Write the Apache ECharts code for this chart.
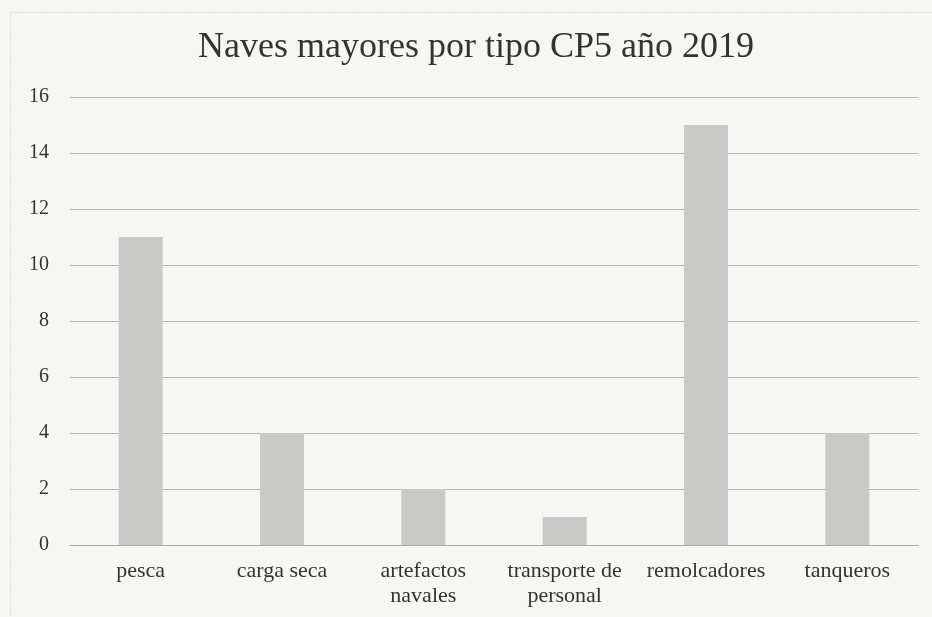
<!DOCTYPE html>
<html>
<head>
<meta charset="utf-8">
<script src="https://cdn.jsdelivr.net/npm/echarts@6/dist/echarts.min.js"></script>
<style>
html,body{margin:0;padding:0;background:#f6f6f2;}
#c{width:932px;height:617px;}
</style>
</head>
<body>
<div id="c"></div>
<script>
const titleText = "Naves mayores por tipo CP5 año 2019";
const categories = ["pesca", "carga seca", "artefactos navales", "transporte de personal", "remolcadores", "tanqueros"];
const tickLabels = ["pesca", "carga seca", "artefactos\nnavales", "transporte de\npersonal", "remolcadores", "tanqueros"];
const values = [11, 4, 2, 1, 15, 4];
const yTicks = [0, 2, 4, 6, 8, 10, 12, 14, 16];

const chart = echarts.init(document.getElementById('c'));
const serif = "'Liberation Serif', 'DejaVu Serif', serif";
chart.setOption({
  backgroundColor: '#f6f6f2',
  animation: false,
  title: {
    text: titleText,
    left: 193,
    top: 25,
    textStyle: {fontFamily: serif, fontSize: 36, fontWeight: 'normal', color: '#333333'}
  },
  graphic: [{
    type: 'rect', left: 8, top: 10, shape: {width: 940, height: 620},
    style: {fill: 'none', stroke: '#c8c8c4', lineWidth: 1, lineDash: [1, 2]}, silent: true
  }],
  grid: {left: 70, right: 14, top: 97, bottom: 72, containLabel: false},
  xAxis: {
    type: 'category',
    data: categories,
    axisLine: {show: true, lineStyle: {color: '#a8a8a8', width: 1}},
    axisTick: {show: false},
    axisLabel: {
      interval: 0, margin: 14, color: '#333333', fontFamily: serif, fontSize: 22, lineHeight: 25,
      formatter: (v, i) => tickLabels[i]
    }
  },
  yAxis: {
    type: 'value',
    min: yTicks[0], max: yTicks[yTicks.length - 1], interval: 2,
    axisLine: {show: false},
    axisTick: {show: false},
    axisLabel: {margin: 21, color: '#333333', fontFamily: serif, fontSize: 20},
    splitLine: {lineStyle: {color: '#b4b4b0', width: 1}}
  },
  series: [{
    type: 'bar',
    data: values,
    barWidth: 44,
    itemStyle: {color: '#c9c9c7'}
  }]
});
</script>
</body>
</html>
